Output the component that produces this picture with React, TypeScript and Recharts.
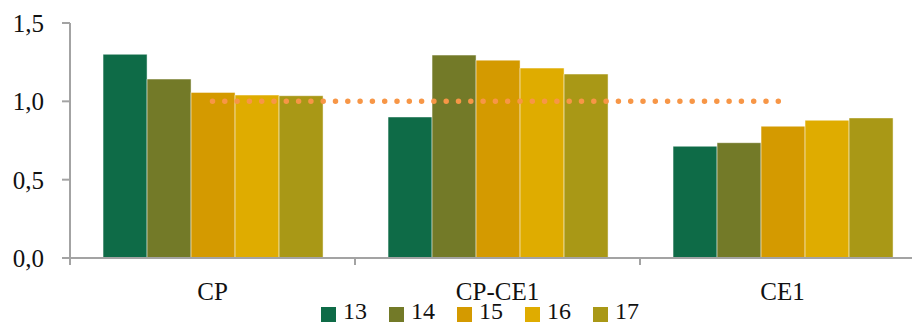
import { Bar, ComposedChart, Line, XAxis, YAxis } from 'recharts'

const categories = ['CP', 'CP-CE1', 'CE1']
const series = ['13', '14', '15', '16', '17']
const values13 = [1.3, 0.9, 0.713]
const values14 = [1.142, 1.295, 0.736]
const values15 = [1.057, 1.263, 0.841]
const values16 = [1.04, 1.212, 0.879]
const values17 = [1.036, 1.174, 0.894]
const baseline = [1, 1, 1]
const yTicks = [0, 0.5, 1, 1.5]

const COLORS: Record<string, string> = {
  '13': '#0E6B47',
  '14': '#737A28',
  '15': '#D49A00',
  '16': '#DFAC00',
  '17': '#A99816',
}

const FONT = '"Liberation Serif", serif'
const AXIS = '#A3A3A3'

const data = categories.map((name, i) => ({
  name,
  '13': values13[i],
  '14': values14[i],
  '15': values15[i],
  '16': values16[i],
  '17': values17[i],
  level: baseline[i],
}))

const fmt = (v: number) => v.toFixed(1).replace('.', ',')

// label au centre, trait de graduation à la limite gauche de la catégorie
function CategoryTick(props: any) {
  const { x, y, payload } = props
  const half = payload?.offset ?? 142.5
  return (
    <g>
      <line x1={x - half} y1={y} x2={x - half} y2={y + 7} stroke={AXIS} strokeWidth={2} />
      <text x={x} y={y + 42} textAnchor="middle" fontSize={25} fontFamily={FONT} fill="#111">
        {payload.value}
      </text>
    </g>
  )
}

export default function App() {
  return (
    <div
      style={{
        position: 'absolute',
        left: 0,
        top: 0,
        width: 912,
        height: 325,
        overflow: 'hidden',
        background: '#fff',
        fontFamily: FONT,
      }}
    >
      <ComposedChart
        width={940}
        height={325}
        data={data}
        margin={{ top: 23, right: 15, bottom: 0, left: 0 }}
        barCategoryGap="11.6%"
        barGap={0}
      >
        <XAxis
          dataKey="name"
          height={67}
          tickSize={0}
          tickMargin={0}
          tick={<CategoryTick />}
          axisLine={{ stroke: AXIS, strokeWidth: 2 }}
          tickLine={false}
          interval={0}
        />
        <YAxis
          width={70}
          domain={[0, 1.5]}
          ticks={yTicks}
          tickFormatter={fmt}
          tickSize={8}
          tickMargin={18}
          tick={{ fontSize: 25, fontFamily: FONT, fill: '#111' }}
          axisLine={{ stroke: AXIS, strokeWidth: 2 }}
          tickLine={{ stroke: AXIS, strokeWidth: 2 }}
        />
        {series.map((s) => (
          <Bar
            key={s}
            dataKey={s}
            fill={COLORS[s]}
            stroke="rgba(255,255,255,0.45)"
            strokeWidth={1}
            isAnimationActive={false}
          />
        ))}
        <Line
          dataKey="level"
          stroke="#F79646"
          strokeWidth={5.5}
          strokeDasharray="0 12.3"
          strokeLinecap="round"
          dot={false}
          activeDot={false}
          isAnimationActive={false}
        />
      </ComposedChart>

      {/* Légende */}
      <div
        style={{
          position: 'absolute',
          left: 321,
          top: 301,
          height: 20,
          display: 'flex',
          alignItems: 'center',
          fontFamily: FONT,
          fontSize: 24,
          lineHeight: '20px',
          color: '#111',
        }}
      >
        {series.map((s) => (
          <span key={s} style={{ display: 'flex', alignItems: 'center', marginRight: 22 }}>
            <span
              style={{
                width: 15,
                height: 15,
                background: COLORS[s],
                marginRight: 7,
                position: 'relative',
                top: 3,
              }}
            />
            <span>{s}</span>
          </span>
        ))}
      </div>
    </div>
  )
}
